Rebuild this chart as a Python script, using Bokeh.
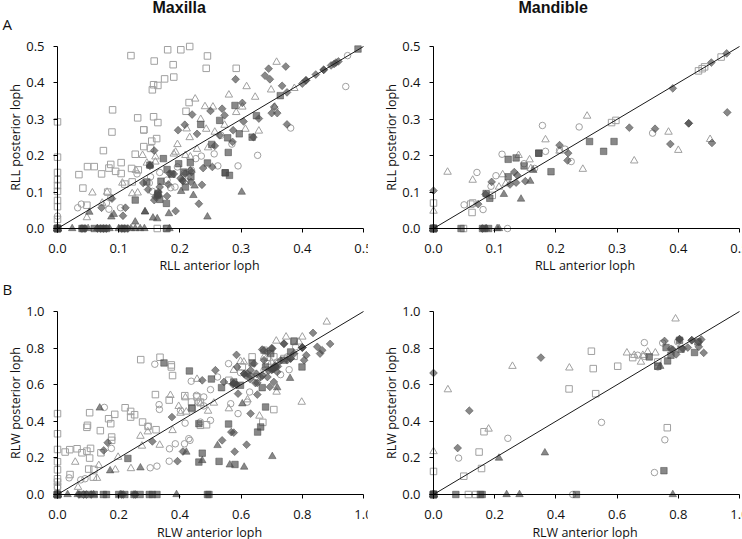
from math import pi
from bokeh.plotting import figure
from bokeh.layouts import column, row
from bokeh.models import Range1d, FixedTicker, LinearAxis, PrintfTickFormatter
from bokeh.core.properties import value
from bokeh.embed import file_html
from bokeh.resources import INLINE

# ---------- Panel A, Maxilla (RLL) ----------
al_open_sq = [(.120,.475),(.158,.46),(.18,.491),(.2015,.491),(.216,.5),(.245,.474),(.243,.44),(.292,.44),(.189,.45),(.19,.416),(.175,.411),(.164,.393),(.157,.395),(.155,.381),(.09,.326),(.131,.304),(.157,.307),(.164,.291),(.215,.346),(.21,.322),(.089,.265),(.141,.271),(.141,.271),(.162,.247),(.154,.24),(.141,.225),(.152,.22),(.075,.214),(.127,.204),(.049,.17),(.06,.17),(.035,.148),(.072,.15),(.084,.166),(.087,.176),(.095,.157),(.104,.181),(.104,.151),(.121,.165),(.132,.161),(.0415,.111),(.048,.064),(.082,.1),(0,.293),(0,.196),(0,.154),(0,.134),(0,.118),(0,.102),(0,.077),(0,.06),(0,.025),(.163,0),(.179,0),(.122,.128),(.11,.122),(0,0)]
al_open_ci = [(.474,.475),(.471,.39),(.381,.276),(.327,.201),(.295,.172),(.262,.172),(.256,.205),(.285,.232),(.235,.199),(.033,.057),(.039,.067),(.08,.07),(.084,.053),(.103,.057),(.087,.085),(.155,.102),(.167,.154),(.179,.133),(.185,.151),(.192,.114),(.207,.151),(.219,.16),(0,.034),(.267,.256),(.226,.192),(.196,.169),(.152,.142),(.13,.15),(.15,.125),(.21,.13),(.185,.112),(0,0)]
al_open_tr = [(.358,.457),(.309,.39),(.349,.381),(.387,.385),(.28,.367),(.323,.361),(.225,.356),(.241,.335),(.254,.334),(.302,.334),(.292,.319),(.234,.3),(.211,.274),(.243,.273),(.307,.273),(.329,.268),(.216,.25),(.196,.231),(.257,.265),(.355,.334),(.193,.21),(.228,.218),(.246,.222),(.139,.201),(.16,.197),(.146,.18),(.16,.183),(.128,.16),(.106,.125),(.057,.098),(.081,.1),(.122,.096),(.131,.098),(.048,.03),(.19,.205),(.209,.201),(.217,.197),(.073,.07),(.273,.284),(0,0)]
al_diam = [(.373,.445),(.345,.439),(.339,.42),(.347,.41),(.291,.41),(.367,.392),(.375,.374),(.302,.345),(.25,.323),(.22,.313),(.269,.329),(.273,.311),(.354,.334),(.35,.317),(.359,.317),(.375,.286),(.329,.302),(.197,.27),(.208,.285),(.228,.26),(.265,.256),(.257,.227),(.286,.238),(.287,.27),(.32,.251),(.304,.294),(.158,.214),(.151,.172),(.238,.166),(.253,.169),(.236,.12),(.231,.068),(.193,.048),(.107,.035),(.111,.057),(.072,.057),(.148,.107),(.158,.078),(.179,.089),(.181,.121),(.218,.128),(.209,.151),(.204,.133),(.219,.155),(.16,.087),(.167,.114),(.14,.125),(.422,.423),(.435,.436),(.435,.436),(.4,.398),(.406,.407),(.406,.407),(.447,.448),(.455,.456),(.459,.459),(.452,.452),(.089,.082),
           (.165,.091),(.165,.1),(.201,.138),(.217,.16),(.183,.151),(.19,.15),(.205,.13),
           (.04,0),(.045,0),(.065,0),(.07,0),(.075,0),(.08,0),(.105,0),(.11,0),(.115,0),(0,0),(0,0),(0,0),(0,0),(0,0)]
al_sq = [(.491,.493),(.364,.365),(.29,.338),(.265,.297),(.234,.286),(.297,.26),(.278,.249),(.325,.31),(.318,.251),(.279,.209),(.274,.153),(.274,.153),(.281,.146),(.245,.18),(.252,.231),(.173,.192),(.151,.174),(.198,.178),(.179,.162),(.169,.13),(.187,.149),(.209,.114),(.127,.078),(.178,.069),(.167,.08),(.218,.142),(.146,.128),(.217,.181),(.206,.155),(.164,.096),(.164,.092),
         (.04,0),(.042,0),(.06,0),(.07,0),(.075,0),(.08,0),(.105,0),(.11,0),(.178,0),(0,0),(0,0),(0,0),(0,0),(0,0)]
al_tr = [(.301,.1),(.245,.032),(.127,.018),(.163,.027),(.156,.029),(.182,.041),(.202,.102),(.222,.091),(.224,.117),(.143,.046),(.143,.046),(.092,.039),(.052,.045),(.088,.032),(.151,.174),
         (.024,0),(.05,0),(.065,0),(.085,0),(.1,0),(.12,0),(.127,0),(.135,0),(.142,0),(.183,0),(0,0),(0,0),(0,0),(0,0)]

# ---------- Panel A, Mandible (RLL) ----------
ar_open_sq = [(0,.07),(.433,.433),(.443,.444),(.439,.439),(.47,.471),(.291,.291),(.298,.297),(.063,.044),(.061,.067),(.064,.07),(.049,0),(.096,.091),(0,0)]
ar_open_ci = [(.05,.065),(.071,.154),(.081,.052),(.102,.145),(.094,.116),(.112,.204),(.178,.283),(.238,.279),(.358,.262),(.183,.212),(.206,.215),(.215,.218),(.225,.184),(.165,.165),(.148,.178),(.121,0),(0,0)]
ar_open_tr = [(.023,.155),(.064,.133),(0,.048),(.113,.148),(.139,.201),(.157,.189),(.183,.244),(.251,.309),(.244,.163),(.328,.186),(.384,.265),(.4,.215),(.452,.245),(.159,.165),(.107,.114),(.118,.123),(.206,.213),(0,0)]
ar_diam = [(0,.104),(.391,.385),(.454,.456),(.479,.481),(.48,.319),(.417,.289),(.417,.289),(.362,.274),(.32,.277),(.387,.232),(.455,.235),(.206,.229),(.22,.207),(.219,.187),(.132,.155),(.135,.126),(.15,.13),(.095,.128),(.085,.094),(.073,.067),(.125,.121),(.137,.146),(.08,0),(0,0),(0,0),(0,0),(0,0),(0,0)]
ar_sq = [(.122,.19),(.135,.194),(.172,.207),(.172,.207),(.255,.239),(.295,.239),(.278,.212),(.192,.156),(.122,.142),(.092,.083),(.148,.172),(.086,.096),(.045,0),(.08,0),(.09,0),(.083,0),(0,0),(0,0),(0,0),(0,0),(0,0)]
ar_tr = [(.115,.094),(.143,.081),(.158,.13),(.163,.16),(.086,0),(.104,0),(.107,0),(0,0),(0,0),(0,0),(0,0)]

# ---------- Panel B, Maxilla (RLW) ----------
bl_open_sq = [(.272,.737),(.335,.75),(.372,.708),(.372,.697),(.376,.65),(.32,.546),(.365,.516),(.416,.54),(.438,.505),(.456,.533),(.467,.505),(.221,.474),(.239,.454),(.252,.436),(.239,.423),(.187,.438),(.167,.414),(.174,.387),(.105,.447),(.098,.378),(.096,.367),(.14,.349),(.177,.314),(.177,.296),(.278,.396),(.296,.372),(.322,.354),(.025,.232),(.04,.245),(.064,.25),(.08,.228),(.096,.237),(.108,.252),(.105,.199),(.102,.139),(.119,.137),(.142,.228),(.117,.095),(.041,.109),(0,.442),(0,.332),(0,.246),(0,.179),(0,.135),(0,.086),(0,.068),(0,.044),(.487,.381),(.707,.464),(.671,.394),(.467,.378),(.44,.469),(.707,.752),(.773,.839),(.686,.715),(.636,.752),(.74,.743),(.675,.788),(.604,.697),(.56,.624),(.653,.642),(.773,.755),(0,0)]
bl_open_ci = [(.318,.712),(.153,.476),(.332,.491),(.333,.465),(.437,.619),(.454,.542),(.478,.533),(.5,.573),(.523,.642),(.559,.715),(.566,.496),(.59,.442),(.5,.405),(.467,.396),(.417,.39),(.429,.305),(.433,.296),(.415,.277),(.385,.277),(.366,.25),(.365,.182),(.303,.146),(.325,.155),(.176,.252),(.038,.091),(.076,.08),(.09,.086),(.296,.372),(.402,.46),(.478,.484),(.46,.505),(.628,.56),(.729,.655),(.757,.682),(.675,.679),(.718,.724),(.598,.666),(.62,.505),(0,.04),(.751,.752),(.778,.807),(0,0)]
bl_open_tr = [(.88,.943),(.747,.861),(.8,.861),(.715,.839),(.798,.505),(.716,.56),(.66,.429),(.609,.724),(.576,.679),(.56,.469),(.621,.518),(.511,.5),(.492,.456),(.456,.63),(.369,.542),(.396,.482),(.421,.451),(.376,.35),(.271,.319),(.295,.343),(.276,.265),(.334,.27),(.24,.142),(.189,.135),(.198,.204),(.135,.159),(.129,.089),(.058,.177),(.067,.04),(.468,.496),(.418,.529),(.598,.728),(.675,.752),(.699,.724),(.789,.834),(.402,.445),(0,0)]
bl_diam = [(.835,.883),(.891,.823),(.849,.807),(.74,.823),(.8,.803),(.8,.803),(.858,.77),(.865,.788),(.813,.761),(.806,.734),(.585,.763),(.669,.792),(.702,.797),(.642,.715),(.686,.779),(.516,.679),(.473,.624),(.544,.615),(.587,.697),(.573,.602),(.585,.6),(.585,.6),(.59,.551),(.653,.546),(.631,.442),(.618,.272),(.579,.234),(.568,.341),(.576,.338),(.538,.296),(.392,.182),(.41,.235),(.374,.423),(.31,.29),(.151,.241),(.164,.283),(.62,.661),(.664,.642),(.718,.67),(.713,.697),(.686,.642),(.751,.734),(.773,.77),(.707,.615),(.647,.609),(.615,.651),(.707,.688),(.707,.688),(.713,.697),(.694,.588),(.631,.679),(.675,.734),(.63,.65),(.7,.68),(.65,.66),
           (.702,.687),(.702,.687),(.702,.687),(.576,.607),(.576,.607),(.61,.66),(.61,.66),(.80,.804),(.74,.825),(.762,.743),(.762,.743),(.675,.787),(.70,.80),(.63,.63),(.653,.61),(.67,.65),(.69,.678),(.712,.705),(.729,.732),(.72,.70),
           (.07,0),(.085,0),(.095,0),(.11,0),(.21,0),(.215,0),(.25,0),(.255,0),(0,0),(0,0),(0,0),(0,0),(0,0)]
bl_sq = [(.348,.719),(.431,.675),(.503,.631),(.536,.584),(.439,.473),(.462,.387),(.473,.226),(.462,.177),(.23,.197),(.528,.181),(.58,.164),(.559,.385),(.654,.341),(.664,.369),(.68,.478),(.799,.697),(.773,.836),(.669,.584),(.636,.719),(.68,.697),(.74,.734),(.762,.779),(.576,.615),(.598,.597),(.697,.77),
         (.08,0),(.1,0),(.12,0),(.15,0),(.16,0),(.2,0),(.22,0),(.25,0),(.27,0),(.3,0),(.31,0),(.325,0),(.49,0),(.495,0),(0,0),(0,0),(0,0),(0,0),(0,0)]
bl_tr = [(.702,.208),(.61,.15),(.563,.162),(.523,.268),(.473,.186),(.271,.146),(.172,.13),(.421,.232),(.138,.473),(.76,.635),(.718,.584),(.604,.496),
         (.033,0),(.066,0),(.118,0),(.205,0),(.389,0),(0,0),(0,0),(0,0),(0,0)]

# ---------- Panel B, Mandible (RLW) ----------
br_open_sq = [(0,.126),(.099,.1),(.149,.232),(.157,.142),(.165,.343),(.443,.577),(.516,.783),(.522,.688),(.53,.551),(.602,.701),(.651,.748),(.764,.365),(.114,0),(.138,0),(.733,.724),(.733,.701),(0,0)]
br_open_ci = [(.082,.199),(.243,.307),(.549,.394),(.689,.83),(.756,.299),(.722,.12),(.455,0),(.667,.761),(.689,.755),(.749,.828),(.798,.834),(.733,.697),(0,0)]
br_open_tr = [(.791,.96),(0,.235),(.047,.573),(.18,.358),(.258,.701),(.444,.692),(.632,.774),(.678,.724),(.7,.779),(.725,.774),(.656,.761),(.684,.761),(0,0)]
br_diam = [(0,.664),(.351,.748),(.117,.458),(.079,.254),(.755,.839),(.804,.849),(.804,.849),(.844,.843),(.844,.843),(.875,.847),(.867,.834),(.883,.774),(.793,.766),(.776,.796),(.867,.807),(.815,.797),(.831,.803),(.782,.792),(0,0),(0,0),(0,0),(0,0),(0,0)]
br_sq = [(.753,.13),(.853,.776),(.765,.73),(.76,.803),(.776,.761),(.809,.794),(.705,.752),(.733,.701),(.073,0),(.153,0),(.159,0),(.467,0),(.864,.834),(.804,.843),(0,0),(0,0),(0,0),(0,0),(0,0)]
br_tr = [(.214,.199),(.364,.228),(.741,.701),(.239,0),(.281,0),(.782,0),(0,0),(0,0),(0,0),(0,0)]

rll_ticks = [0.0, 0.1, 0.2, 0.3, 0.4, 0.5]
rlw_ticks = [0.0, 0.2, 0.4, 0.6, 0.8, 1.0]
rll_line = [0.0, 0.5]
rlw_line = [0.0, 1.0]
jaw_titles = ["Maxilla", "Mandible"]
panel_letters = ["A", "B"]

FONT = "Open Sans"
TICK = "#000000"
TXT = "#111111"
EXTRA = 13   # canvas width past the slot, hidden by the next panel or the window edge
TOP = 6      # room above the top tick label

def xs(p): return [a for a, _ in p]
def ys(p): return [b for _, b in p]

def panel(series, ticks, line, xlab, ylab, w, h, fl, fb, xlab_off):
    fw, fh = w - fl, h - fb - TOP
    top = ticks[-1]
    pad = 6
    # the plotted span is 306 px wide; the frame keeps a few px beyond it so that marks on the axes stay whole
    scale_x = 306 / top
    scale_y = (fh - 2 * pad) / top
    x_r = Range1d(-pad / scale_x, (fw - pad) / scale_x)
    y_r = Range1d(-pad / scale_y, top + pad / scale_y)
    p = figure(width=w + EXTRA, height=h, x_range=x_r, y_range=y_r, output_backend="svg", toolbar_location=None,
               min_border_left=fl, min_border_right=EXTRA, min_border_top=TOP, min_border_bottom=fb,
               frame_width=fw, frame_height=fh,
               x_axis_label=xlab, y_axis_label=ylab, margin=(0, -EXTRA, 0, 0))
    p.outline_line_color = None
    p.grid.visible = False
    # the side axes carry the texts only
    for ax, lab, tick in ((p.xaxis[0], xlab_off, 9), (p.yaxis[0], -1, 7)):
        ax.ticker = FixedTicker(ticks=ticks)
        ax.formatter = PrintfTickFormatter(format="%.1f")
        ax.major_tick_in = 0
        ax.major_tick_out = 0
        ax.minor_tick_line_color = None
        ax.axis_line_color = None
        ax.major_tick_line_color = None
        ax.major_label_standoff = tick
        ax.major_label_text_font = FONT
        ax.major_label_text_font_size = "13px"
        ax.major_label_text_color = TXT
        ax.axis_label_text_font = FONT
        ax.axis_label_text_font_size = "12.5px"
        ax.axis_label_text_font_style = "normal"
        ax.axis_label_text_color = TXT
        ax.axis_label_standoff = lab
    # axis lines and ticks sit on the zero lines
    for side in ("below", "left"):
        ax = LinearAxis(fixed_location=0, ticker=FixedTicker(ticks=ticks), bounds=(0, top),
                        major_tick_in=0, major_tick_out=4, minor_tick_line_color=None,
                        axis_line_color=TICK, major_tick_line_color=TICK,
                        major_label_text_color=None, major_label_text_font_size="1px")
        p.add_layout(ax, side)
    op, oc, ot, fd, fs, ftr = series
    open_col = "#a0a0a0"
    for d, m, sz in ((op, "square", 6.5), (oc, "circle", 6.5), (ot, "triangle", 7.5)):
        p.scatter(xs(d), ys(d), marker=m, size=sz, fill_color=None, line_color=open_col, line_width=1)
    dark = "#484848"
    for d, m, sz, ang in ((fd, "square", 5.5, pi / 4), (fs, "square", 6.5, 0), (ftr, "triangle", 7.5, 0)):
        p.scatter(xs(d), ys(d), marker=m, size=sz, angle=ang, fill_color=dark, fill_alpha=0.65, line_color=dark, line_alpha=0.5, line_width=1)
    p.line(line, line, line_color="#1a1a1a", line_width=1)
    return p

def header(h, items):
    p = figure(width=742, height=h, x_range=Range1d(0, 742), y_range=Range1d(h, 0), output_backend="svg",
               toolbar_location=None, x_axis_type=None, y_axis_type=None,
               min_border_left=0, min_border_right=0, min_border_top=0, min_border_bottom=0)
    p.outline_line_color = None
    p.grid.visible = False
    for txt, x, y, bold in items:
        p.text([x], [y], text=[txt], text_font=value("Liberation Sans" if bold else FONT),
               text_font_size="16px" if bold else "15px", text_font_style="bold" if bold else "normal",
               text_color=TXT, text_align="left", text_baseline="alphabetic")
    return p

head1 = header(34, [(jaw_titles[0], 152, 7, True), (jaw_titles[1], 518, 7, True), (panel_letters[0], 2, 23.5, False)])
a1 = panel((al_open_sq, al_open_ci, al_open_tr, al_diam, al_sq, al_tr), rll_ticks, rll_line, "RLL anterior loph", "RLL posterior loph",
           367, 244, 51, 44, 1)
a2 = panel((ar_open_sq, ar_open_ci, ar_open_tr, ar_diam, ar_sq, ar_tr), rll_ticks, rll_line, "RLL anterior loph", "RLL posterior loph",
           375, 244, 60, 44, 1)
head2 = header(21, [(panel_letters[1], 2, 10, False)])
b1 = panel((bl_open_sq, bl_open_ci, bl_open_tr, bl_diam, bl_sq, bl_tr), rlw_ticks, rlw_line, "RLW anterior loph", "RLW posterior loph",
           367, 240, 51, 39, 2)
b2 = panel((br_open_sq, br_open_ci, br_open_tr, br_diam, br_sq, br_tr), rlw_ticks, rlw_line, "RLW anterior loph", "RLW posterior loph",
           375, 240, 60, 39, 2)

root = column(head1, row(a1, a2), head2, row(b1, b2), spacing=0, margin=(0, 0, -8, 0))
open("out.html", "w").write(file_html(root, INLINE))
